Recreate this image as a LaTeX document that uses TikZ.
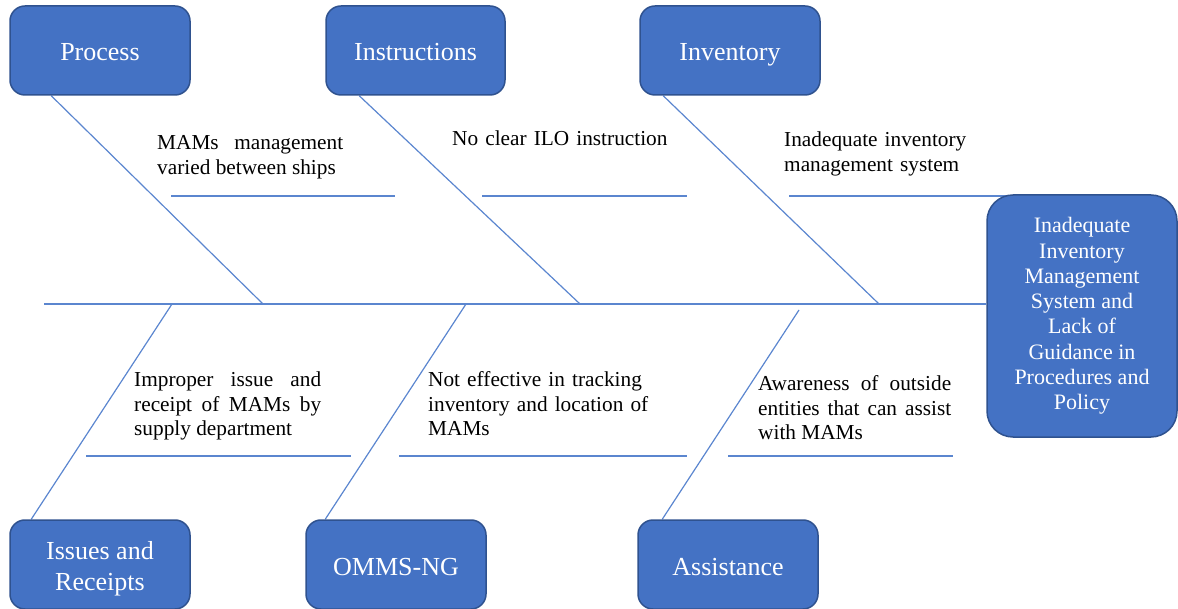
\documentclass[tikz,border=0pt]{standalone}
\usepackage{fontspec}
\setmainfont{Liberation Serif}
\usetikzlibrary{backgrounds}
\definecolor{boxblue}{HTML}{4472C4}
\definecolor{boxborder}{HTML}{2F528F}
\definecolor{lineblue}{HTML}{5B86CF}
\tikzset{
  catbox/.style={draw=boxborder, line width=1.5pt, fill=boxblue, rounded corners=15pt,
    text=white, font=\fontsize{26}{31}\selectfont, align=center,
    minimum width=180pt, minimum height=89pt, inner sep=0pt},
  oneline/.style={text height=21pt, text depth=0pt},
  effbox/.style={draw=boxborder, line width=1.5pt, fill=boxblue, rounded corners=26pt,
    text=white, font=\fontsize{22}{25.3}\selectfont, align=center,
    minimum width=190pt, minimum height=242pt, inner sep=0pt},
  bone/.style={draw=lineblue, line width=1.2pt},
  lbl/.style={anchor=base west, inner sep=0pt, font=\fontsize{21.3}{24.5}\selectfont, text=black}
}
\begin{document}
\begin{tikzpicture}[x=1pt,y=-1pt]
\useasboundingbox (0,0) rectangle (1178,609);
% category boxes
\node[catbox, oneline] (proc) at (100,50.5) {Process};
\node[catbox, oneline, minimum width=179pt] (instr) at (415.5,50.5) {Instructions};
\node[catbox, oneline] (inv) at (730,50.5) {Inventory};
\node[catbox] (iss) at (100,564.5) {\rule{0pt}{26pt}Issues and\\Receipts};
\node[catbox, oneline] (omms) at (396,564.5) {OMMS-NG};
\node[catbox, oneline] (assist) at (728,564.5) {Assistance};
% effect box
\node[effbox] (eff) at (1082,316) {Inadequate\\Inventory\\Management\\System and\\Lack of\\Guidance in\\Procedures and\\Policy};
% spine points
\coordinate (spine0) at (44,304);
\coordinate (s1) at (263,304);
\coordinate (s2) at (580,304);
\coordinate (s3) at (879,304);
\coordinate (b1) at (172,304);
\coordinate (b2) at (466,304);
\coordinate (b3) at (799,310);
\begin{scope}[on background layer]
  \draw[bone] (spine0) -- (spine0 -| eff.west);
  \draw[bone] ([xshift=42pt]proc.south west) -- (s1);
  \draw[bone] ([xshift=34pt]instr.south west) -- (s2);
  \draw[bone] ([xshift=24pt]inv.south west) -- (s3);
  \draw[bone] (b1) -- ([xshift=22pt]iss.north west);
  \draw[bone] (b2) -- ([xshift=20pt]omms.north west);
  \draw[bone] (b3) -- ([xshift=25pt]assist.north west);
  % cause underlines
  \draw[bone] (171,196) -- (395,196);
  \draw[bone] (482,196) -- (687,196);
  \draw[bone] (789,196) -- (1012,196);
  \draw[bone] (86,456) -- (351,456);
  \draw[bone] (399,456) -- (687,456);
  \draw[bone] (728,456) -- (953,456);
\end{scope}
% cause texts
\node[lbl, text width=186pt, align=justify] (t1) at (157,150) {MAMs management\linebreak varied between ships};
\node[lbl, text width=260pt, align=left] (t2) at (452,146) {No clear ILO instruction};
\node[lbl, text width=220pt, align=left] (t3) at (784,147) {Inadequate inventory\\management system};
\node[lbl, text width=187pt, align=justify] (t4) at (134,387) {Improper issue and\linebreak receipt of MAMs by\linebreak supply department};
\node[lbl, text width=260pt, align=left] (t5) at (428,387) {Not effective in tracking\\inventory and location of\\MAMs};
\node[lbl, text width=193pt, align=justify] (t6) at (758,391) {Awareness of outside\linebreak entities that can assist\linebreak with MAMs};
\end{tikzpicture}
\end{document}
